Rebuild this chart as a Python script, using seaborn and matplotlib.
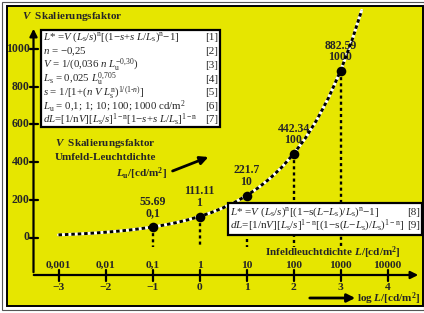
import matplotlib
matplotlib.use('Agg')
import matplotlib.pyplot as plt
from matplotlib.patches import Rectangle
import seaborn as sns
import pandas as pd

# curve: log L and scaling factor V
curve_logL = [-3, -2.75, -2.5, -2.25, -2, -1.75, -1.5, -1.25, -1, -0.75, -0.5, -0.25,
              0, 0.25, 0.5, 0.75, 1, 1.25, 1.5, 1.75, 2, 2.25, 2.5, 2.75, 3, 3.25, 3.45]
curve_V = [13.96, 16.59, 19.72, 23.44, 27.86, 33.12, 39.36, 46.78, 55.69, 66.1, 78.6, 93.5,
           111.11, 132.1, 157.0, 186.5, 221.7, 263.5, 313.2, 372.2, 442.34, 525.6, 624.8, 742.5,
           882.59, 1049, 1204]

# marked points
point_logL = [-1, 0, 1, 2, 3]
point_V = [55.69, 111.11, 221.7, 442.34, 882.59]
point_value_labels = ['55.69', '111.11', '221.7', '442.34', '882.59']
point_L_labels = ['0,1', '1', '10', '100', '1000']

# axes ticks
y_ticks = [0, 200, 400, 600, 800, 1000]
x_ticks = [-3, -2, -1, 0, 1, 2, 3, 4]
x_tick_labels = ['\u22123', '\u22122', '\u22121', '0', '1', '2', '3', '4']
x_top_labels = ['0,001', '0,01', '0,1', '1', '10', '100', '1000', '10000']

box1_lines = [
    r'$L$* =$V$ ($L_{\rm s}$/$s$)$^{\rm n}$[(1$-$$s$+$s$ $L$/$L_{\rm s}$)$^{\rm n}$$-$1]',
    r'$n$ = $-$0,25',
    r'$V$ = 1/(0,036 $n$ $L_{\rm u}^{-0{,}30}$)',
    r'$L_{\rm s}$ = 0,025 $L_{\rm u}^{0{,}705}$',
    r'$s$ = 1/[1+($n$ $V$ $L_{\rm s}^{\rm n}$)$^{1/(1\text{-}n)}$]',
    r'$L_{\rm u}$ = 0,1; 1; 10; 100; 1000 cd/m$^2$',
    r'$dL$=[1/n$V$][$L_{\rm s}$/$s$]$^{\rm 1-n}$[1$-$$s$+$s$ $L$/$L_{\rm s}$]$^{\rm 1-n}$',
]
box1_tags = ['[1]', '[2]', '[3]', '[4]', '[5]', '[6]', '[7]']
box2_lines = [
    r'$L$* =$V$ ($L_{\rm s}$/$s$)$^{\rm n}$[(1$-$s($L$$-$$L_{\rm s}$)/$L_{\rm s}$)$^{\rm n}$$-$1]',
    r'$dL$=[1/n$V$][$L_{\rm s}$/$s$]$^{\rm 1-n}$[(1$-$s($L$$-$$L_{\rm s}$)/$L_{\rm s}$)$^{\rm 1-n}$]',
]
box2_tags = ['[8]', '[9]']

sns.set_style('white')
plt.rcParams['font.family'] = ['Liberation Serif', 'DejaVu Serif']
plt.rcParams['mathtext.fontset'] = 'custom'
plt.rcParams['mathtext.rm'] = 'Liberation Serif'
plt.rcParams['mathtext.it'] = 'Liberation Serif:italic'
plt.rcParams['mathtext.bf'] = 'Liberation Serif:bold'
plt.rcParams['mathtext.bfit'] = 'Liberation Serif:italic:bold'

# pixel -> data helpers for decoration placement
X0, XS = 199.5, 47.0
Y0, YS = 237.5, 0.1887
def dx(p):
    return (p - X0) / XS
def dy(p):
    return (Y0 - p) / YS

fig = plt.figure(figsize=(4.24, 3.13), dpi=100, facecolor='white')
ax = fig.add_axes([0, 0, 1, 1])
ax.set_xlim(dx(0), dx(424))
ax.set_ylim(dy(313), dy(0))
ax.axis('off')

# frames
ax.add_patch(Rectangle((dx(2), dy(310)), dx(423.5) - dx(2), dy(2) - dy(310),
                       fill=False, ec='#555555', lw=0.8, clip_on=False, zorder=0))
ax.add_patch(Rectangle((dx(7), dy(306)), dx(423) - dx(7), dy(5.5) - dy(306),
                       fc='#e6e600', ec='black', lw=1.4, clip_on=False, zorder=0))

# axes with arrows
xa = dx(33.5)
ya = dy(275)
ax.annotate('', xy=(xa, dy(26)), xytext=(xa, ya),
            arrowprops=dict(arrowstyle='-|>', lw=1.6, color='black', mutation_scale=11))
ax.annotate('', xy=(dx(421), ya), xytext=(dx(31), ya),
            arrowprops=dict(arrowstyle='-|>', lw=1.6, color='black', mutation_scale=11))
for v in y_ticks:
    ax.plot([dx(30), dx(37.5)], [v, v], color='black', lw=1.6)
    ax.text(dx(29.5), v, str(v), ha='right', va='center', fontsize=8.5, fontweight='bold')
for x, lab, top in zip(x_ticks, x_tick_labels, x_top_labels):
    ax.plot([x, x], [dy(270), dy(281)], color='black', lw=1.6)
    ax.text(x, dy(287), lab, ha='center', va='center', fontsize=8.2, fontweight='bold')
    ax.text(x, dy(265.5), top, ha='center', va='center', fontsize=8.2, fontweight='bold')

# dotted drops
for x, v in zip(point_logL, point_V):
    ax.plot([x, x], [v, dy(247)], color='black', lw=1.7, dashes=(1.3, 1.3), zorder=2)

# curve: white under black dashes
df = pd.DataFrame({'logL': curve_logL, 'V': curve_V})
sns.lineplot(data=df, x='logL', y='V', ax=ax, color='white', lw=2.1, sort=False,
             estimator=None, zorder=3)
sns.lineplot(data=df, x='logL', y='V', ax=ax, color='black', lw=2.1, sort=False,
             estimator=None, zorder=4, dashes=False)
ax.lines[-1].set_dashes((1.2, 1.0))

pts = pd.DataFrame({'logL': point_logL, 'V': point_V})
sns.scatterplot(data=pts, x='logL', y='V', ax=ax, color='black', s=48, zorder=6,
                edgecolor='black', linewidth=0)
for x, v, lv, ll in zip(point_logL, point_V, point_value_labels, point_L_labels):
    ax.annotate(lv + '\n' + ll, xy=(x, v), xytext=(0, 5.5), textcoords='offset points',
                ha='center', va='bottom', fontsize=8.5, fontweight='bold',
                linespacing=0.95, zorder=3.5)

# formula boxes
ax.add_patch(Rectangle((dx(41), dy(127)), dx(220) - dx(41), dy(30) - dy(127),
                       fc='white', ec='black', lw=1.6, zorder=8))
line_y = [37.5, 51.5, 65, 79, 92.5, 106.5, 120]
for py, txt, tag in zip(line_y, box1_lines, box1_tags):
    ax.text(dx(43), dy(py), txt, ha='left', va='center', fontsize=7.8, zorder=9)
    ax.text(dx(218), dy(py), tag, ha='right', va='center', fontsize=8, zorder=9)

ax.add_patch(Rectangle((dx(228), dy(235)), dx(422) - dx(228), dy(203) - dy(235),
                       fc='white', ec='black', lw=1.6, zorder=8))
for py, txt, tag in zip([212.5, 226], box2_lines, box2_tags):
    ax.text(dx(230), dy(py), txt, ha='left', va='center', fontsize=8, zorder=9)
    ax.text(dx(420.5), dy(py), tag, ha='right', va='center', fontsize=8, zorder=9)

# labels
ax.text(dx(22), dy(16), r'$\mathbfit{V}$  Skalierungsfaktor', ha='left', va='center',
        fontsize=8, fontweight='bold')
ax.text(dx(55), dy(143), r'$\mathbfit{V}$  Skalierungsfaktor', ha='left', va='center',
        fontsize=8, fontweight='bold')
ax.text(dx(55), dy(157), 'Umfeld-Leuchtdichte', ha='left', va='center',
        fontsize=8, fontweight='bold')
ax.text(dx(167), dy(174), r'$\mathbfit{L}_{\mathbf{u}}$/[cd/m$^{\mathbf{2}}$]', ha='right',
        va='center', fontsize=8, fontweight='bold')
ax.annotate('', xy=(dx(211), dy(156)), xytext=(dx(170), dy(172)),
            arrowprops=dict(arrowstyle='-|>', lw=2.0, color='black', mutation_scale=12))
ax.text(dx(400), dy(252.5), r'Infeldleuchtdichte $\mathbfit{L}$/[cd/m$^{\mathbf{2}}$]',
        ha='right', va='center', fontsize=8, fontweight='bold')
ax.text(dx(420), dy(299), r'log $\mathbfit{L}$/[cd/m$^{\mathbf{2}}$]',
        ha='right', va='center', fontsize=8, fontweight='bold')
ax.annotate('', xy=(dx(358), dy(298)), xytext=(dx(307), dy(298)),
            arrowprops=dict(arrowstyle='-|>', lw=2.0, color='black', mutation_scale=12))

fig.savefig('out.png', dpi=100, facecolor='white')
